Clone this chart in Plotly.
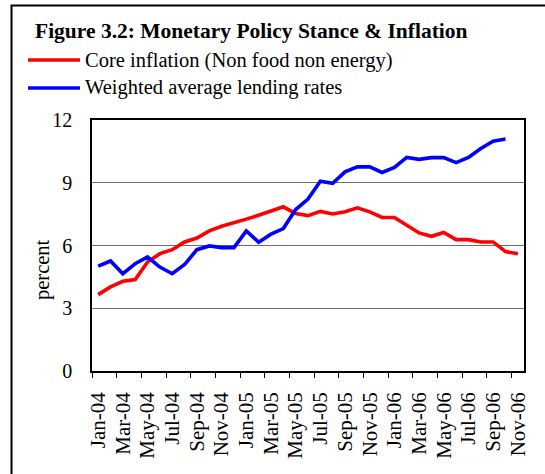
import plotly.graph_objects as go

months = ["Jan-04", "Feb-04", "Mar-04", "Apr-04", "May-04", "Jun-04", "Jul-04", "Aug-04",
          "Sep-04", "Oct-04", "Nov-04", "Dec-04", "Jan-05", "Feb-05", "Mar-05", "Apr-05",
          "May-05", "Jun-05", "Jul-05", "Aug-05", "Sep-05", "Oct-05", "Nov-05", "Dec-05",
          "Jan-06", "Feb-06", "Mar-06", "Apr-06", "May-06", "Jun-06", "Jul-06", "Aug-06",
          "Sep-06", "Oct-06", "Nov-06"]

core_inflation = [3.65, 4.02, 4.29, 4.37, 5.21, 5.61, 5.80, 6.17, 6.36, 6.70, 6.92, 7.08,
                  7.26, 7.45, 7.64, 7.85, 7.53, 7.43, 7.63, 7.51, 7.61, 7.80, 7.61, 7.34,
                  7.34, 6.97, 6.60, 6.44, 6.62, 6.28, 6.28, 6.17, 6.17, 5.71, 5.61]

lending_rates = [5.01, 5.26, 4.65, 5.13, 5.45, 4.97, 4.65, 5.09, 5.80, 5.98, 5.90, 5.90,
                 6.70, 6.16, 6.54, 6.81, 7.72, 8.22, 9.07, 8.97, 9.52, 9.76, 9.76, 9.49,
                 9.73, 10.21, 10.12, 10.20, 10.20, 9.96, 10.21, 10.64, 10.99, 11.09]

y_ticks = [0, 3, 6, 9, 12]

series_names = ["Core inflation (Non food non energy)", "Weighted average lending rates"]
series_colors = ["#FF0000", "#0000FF"]

FONT = "Liberation Serif"
W, H = 545, 474
L, R, T, B = 92, 21, 120, 103
PW, PH = W - L - R, H - T - B


def px(x):
    return (x - L) / PW


def py(y):
    return (H - B - y) / PH


idx = list(range(len(months)))

fig = go.Figure()
fig.add_trace(go.Scatter(x=idx, y=core_inflation, mode="lines", name=series_names[0],
                         line=dict(color=series_colors[0], width=3.6), showlegend=False))
fig.add_trace(go.Scatter(x=idx[:len(lending_rates)], y=lending_rates, mode="lines",
                         name=series_names[1],
                         line=dict(color=series_colors[1], width=3.6), showlegend=False))

fig.update_xaxes(
    range=[-0.5, len(months) - 0.5],
    tickmode="array",
    tickvals=idx[::2],
    ticktext=months[::2],
    tickangle=-90,
    ticks="",
    ticklabelstandoff=11,
    tickfont=dict(family=FONT, size=21, color="black"),
    showgrid=False,
    zeroline=False,
    showline=True, linecolor="black", linewidth=1.5, mirror=True,
    minor=dict(ticks="outside", ticklen=5, tickcolor="black", tickwidth=1,
               tick0=-0.5, dtick=2, showgrid=False),
)
fig.update_yaxes(
    range=[0, 12],
    tickmode="array",
    tickvals=y_ticks,
    ticks="",
    ticklabelstandoff=14,
    tickfont=dict(family=FONT, size=20, color="black"),
    showgrid=True, gridcolor="#6e6e6e", gridwidth=1.3,
    zeroline=False,
    showline=True, linecolor="black", linewidth=1.5, mirror=True,
)

shapes = [
    dict(type="rect", xref="paper", yref="paper",
         x0=px(11.5), x1=px(560), y0=py(5.5), y1=py(490),
         line=dict(color="black", width=2), fillcolor="rgba(0,0,0,0)", layer="below"),
]
annotations = [
    dict(text="<b>Figure 3.2: Monetary Policy Stance &amp; Inflation</b>",
         xref="paper", yref="paper", x=px(33), y=py(31), xanchor="left", yanchor="middle",
         showarrow=False, font=dict(family=FONT, size=21.5, color="black")),
    dict(text="percent", xref="paper", yref="paper", x=px(42), y=py(270),
         xanchor="center", yanchor="middle", textangle=-90, showarrow=False,
         font=dict(family=FONT, size=20.5, color="black")),
]
for name, color, ly in zip(series_names, series_colors, [60, 88]):
    shapes.append(dict(type="line", xref="paper", yref="paper",
                       x0=px(28), x1=px(80), y0=py(ly), y1=py(ly),
                       line=dict(color=color, width=3.6)))
    annotations.append(dict(text=name, xref="paper", yref="paper", x=px(83), y=py(ly),
                            xanchor="left", yanchor="middle", showarrow=False,
                            font=dict(family=FONT, size=20.5, color="black")))

fig.update_layout(
    width=W, height=H,
    margin=dict(l=L, r=R, t=T, b=B, pad=0),
    paper_bgcolor="white", plot_bgcolor="white",
    shapes=shapes, annotations=annotations,
    showlegend=False,
)

fig.write_html("out.html", config={"displayModeBar": False},
               post_script="document.body.style.margin='0px';")
